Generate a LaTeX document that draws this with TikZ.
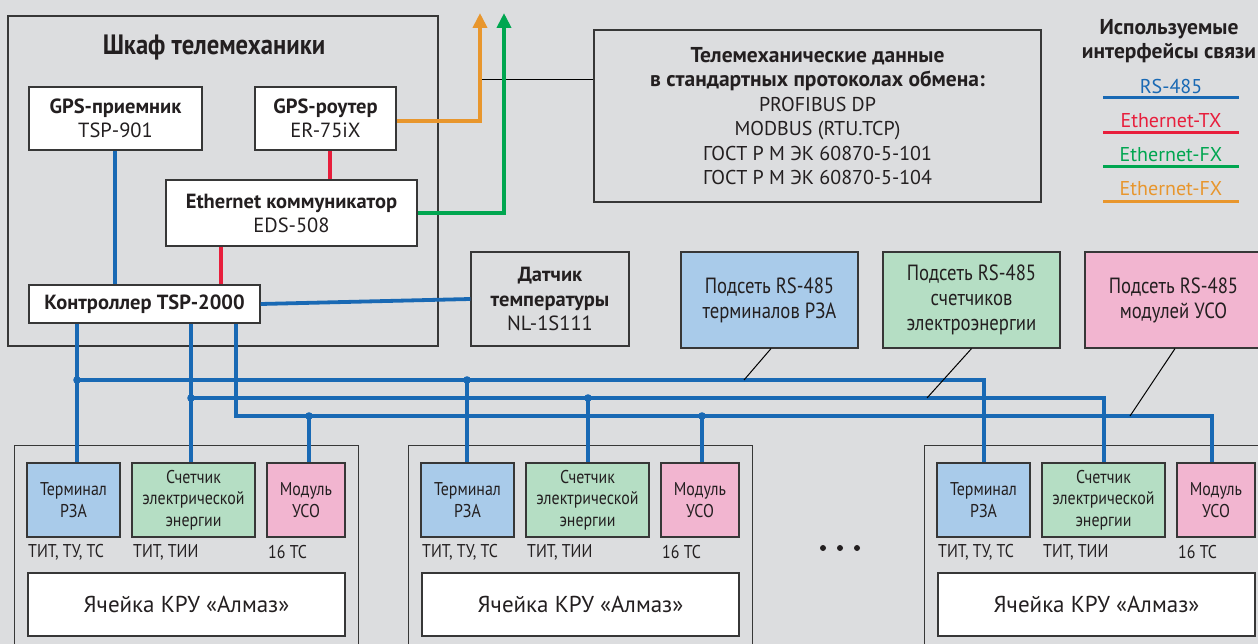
\documentclass[tikz,border=0pt]{standalone}
\usepackage{fontspec}
\setmainfont{PT Sans}
\newfontfamily\cond[FakeStretch=0.86]{PT Sans}
\newfontfamily\condsub[FakeStretch=0.85]{PT Sans}
\newfontfamily\condtitle[FakeStretch=0.88]{PT Sans}
\usetikzlibrary{arrows.meta,calc}
\definecolor{bg}{RGB}{220,221,223}
\definecolor{rsblue}{RGB}{25,105,180}
\definecolor{etred}{RGB}{232,30,60}
\definecolor{fxgreen}{RGB}{0,166,80}
\definecolor{fxorange}{RGB}{232,150,45}
\definecolor{fblue}{RGB}{169,203,234}
\definecolor{fgreen}{RGB}{181,222,196}
\definecolor{fpink}{RGB}{242,181,208}
\definecolor{edge}{RGB}{55,55,55}
\definecolor{ink}{RGB}{35,31,32}
\begin{document}
\begin{tikzpicture}[x=1pt,y=-1pt,
  frame/.style={draw=edge, line width=1.2pt, inner sep=0pt},
  box/.style={frame, fill=white, align=center, text=ink, font=\fontsize{20.5}{24}\selectfont},
  cbox/.style={frame, align=center, text=ink, font=\condsub\fontsize{22}{25}\selectfont},
  cellitem/.style={frame, align=center, text=ink, font=\cond\fontsize{18.5}{21.5}\selectfont},
  lbl/.style={anchor=west, text=ink, inner sep=0pt, font=\cond\fontsize{18.5}{20}\selectfont},
  lgd/.style={font=\fontsize{20}{22}\selectfont},
  rs/.style={draw=rsblue, line width=3.8pt},
  bus/.style={draw=rsblue, line width=3.2pt},
  tx/.style={draw=etred, line width=3.8pt},
  fx/.style={draw=fxgreen, line width=4.2pt, -{Triangle[length=15pt,width=14pt]}},
  fxo/.style={draw=fxorange, line width=4.2pt, -{Triangle[length=15pt,width=14pt]}},
  leader/.style={draw=black, line width=1pt},
  dot/.style={fill=rsblue}
]
\fill[bg] (0,0) rectangle (1258,644);
\useasboundingbox (0,0) rectangle (1258,644);

% cabinet
\node[frame, minimum width=430pt, minimum height=330pt] (cab) at (223,181) {};
\node[text=ink, font=\condtitle\bfseries\fontsize{28}{30}\selectfont] (title) at (214,48) {Шкаф телемеханики};
\node[box, minimum width=173pt, minimum height=63pt] (gpsp) at (115.5,118.5) {\bfseries GPS-приемник\\TSP-901};
\node[box, minimum width=141pt, minimum height=63pt] (gpsr) at (325.5,118.5) {\bfseries GPS-роутер\\ER-75iX};
\node[box, minimum width=251pt, minimum height=66pt] (eth) at (291.5,213) {\bfseries Ethernet коммуникатор\\EDS-508};
\node[box, minimum width=231pt, minimum height=38pt] (ctrl) at (144.5,304) {\bfseries Контроллер TSP-2000};

% data box
\node[frame, align=center, text=ink, font=\fontsize{20}{24.5}\selectfont, minimum width=447pt, minimum height=172pt] (data) at (817.5,116)
 {{\fontsize{21.5}{24.5}\selectfont\bfseries Телемеханические данные}\\{\fontsize{21.5}{24.5}\selectfont\bfseries в стандартных протоколах обмена:}\\PROFIBUS DP\\MODBUS (RTU.TCP)\\ГОСТ Р М ЭК 60870-5-101\\ГОСТ Р М ЭК 60870-5-104};

% sensor and subnets
\node[frame, align=center, text=ink, font=\fontsize{20.5}{24.5}\selectfont, minimum width=158pt, minimum height=94pt] (sens) at (550,299) {\bfseries Датчик\\\bfseries температуры\\NL-1S111};
\node[cbox, fill=fblue, minimum width=177pt, minimum height=96pt] (sub1) at (769.5,300) {Подсеть RS-485\\терминалов РЗА};
\node[cbox, fill=fgreen, minimum width=177pt, minimum height=96pt] (sub2) at (971.5,300) {Подсеть RS-485\\счетчиков\\электроэнергии};
\node[cbox, fill=fpink, minimum width=177pt, minimum height=96pt] (sub3) at (1173.5,300) {Подсеть RS-485\\модулей УСО};

% legend
\node[text=ink, align=center, font=\bfseries\fontsize{21.5}{24}\selectfont] (legt) at (1169,41) {Используемые\\интерфейсы связи};
\node[text=rsblue, lgd] (lg1) at (1171,87) {RS-485};
\node[text=etred, lgd] (lg2) at (1171,121) {Ethernet-TX};
\node[text=fxgreen, lgd] (lg3) at (1171,155) {Ethernet-FX};
\node[text=fxorange, lgd] (lg4) at (1171,189) {Ethernet-FX};
\draw[draw=rsblue, line width=3pt] (1103,98) -- (1239,98);
\draw[draw=etred, line width=3pt] (1103,133) -- (1239,133);
\draw[draw=fxgreen, line width=3pt] (1103,167) -- (1239,167);
\draw[draw=fxorange, line width=3pt] (1103,202) -- (1239,202);

% cells
\foreach \o/\i in {0/1,394/2,910/3} {
  \node[frame, minimum width=344pt, minimum height=215pt, anchor=north west] (cell\i) at ({14+\o},445) {};
  \node[cellitem, fill=fblue, minimum width=93pt, minimum height=74pt] (term\i) at ({73.5+\o},500) {Терминал\\РЗА};
  \node[cellitem, fill=fgreen, minimum width=123pt, minimum height=74pt] (cnt\i) at ({193.5+\o},500) {Счетчик\\электрической\\энергии};
  \node[cellitem, fill=fpink, minimum width=78pt, minimum height=74pt] (mod\i) at ({306+\o},500) {Модуль\\УСО};
  \node[lbl] (lt\i) at ({28+\o},552) {ТИТ, ТУ, ТС};
  \node[lbl] (lc\i) at ({133+\o},552) {ТИТ, ТИИ};
  \node[lbl] (lm\i) at ({268+\o},552) {16 ТС};
  \node[box, font=\fontsize{23}{24}\selectfont, minimum width=317pt, minimum height=63pt] (kru\i) at ({186.5+\o},604.5) {Ячейка КРУ «Алмаз»};
}
\fill[ink] (823,548) circle (3pt) (840,548) circle (3pt) (857,548) circle (3pt);

% cabinet connections
\coordinate (gx) at (115,0);
\coordinate (rx) at (330,0);
\coordinate (ex) at (221,0);
\draw[rs] (gpsp.south -| gx) -- (ctrl.north -| gx);
\draw[tx] (gpsr.south -| rx) -- (eth.north -| rx);
\draw[tx] (eth.south -| ex) -- (ctrl.north -| ex);
\draw[rs] (ctrl.east) -- (sens.west);

\coordinate (oc) at (480,121);
\coordinate (gc) at (504,213);
\coordinate (tl) at (480,80);
\draw[leader] (tl) -- (tl -| data.west);
\draw[fxo] (gpsr.east |- oc) -- (oc) -- (480,13);
\draw[fx] (eth.east |- gc) -- (gc) -- (504,13);

% buses
\coordinate (j1) at (77,380);
\coordinate (j2) at (191,398);
\coordinate (k3) at (236,416);
\coordinate (e1) at (984,380);
\coordinate (e2) at (1104,398);
\coordinate (e3) at (1212,416);
\coordinate (d1) at (467,380);
\coordinate (d2) at (588,398);
\coordinate (d3) at (309,416);
\coordinate (d4) at (702,416);
\draw[bus] (ctrl.south -| j1) -- (j1 |- term1.north);
\draw[bus] (ctrl.south -| j2) -- (j2 |- cnt1.north);
\draw[bus] (ctrl.south -| k3) -- (k3) -- (e3) -- (e3 |- mod3.north);
\draw[bus] (j1) -- (e1) -- (e1 |- term3.north);
\draw[bus] (j2) -- (e2) -- (e2 |- cnt3.north);
\draw[bus] (d1) -- (d1 |- term2.north);
\draw[bus] (d2) -- (d2 |- cnt2.north);
\draw[bus] (d3) -- (d3 |- mod1.north);
\draw[bus] (d4) -- (d4 |- mod2.north);
\foreach \p in {j1,j2,d1,d2,d3,d4} \fill[dot] (\p) circle (3.8pt);

% subnet leaders
\coordinate (l1) at (744,380);
\coordinate (l2) at (927,398);
\coordinate (l3) at (1130,416);
\draw[leader] ([xshift=1.5pt]sub1.south) -- (l1);
\draw[leader] (sub2.south) -- (l2);
\draw[leader] ([xshift=1.5pt]sub3.south) -- (l3);
\end{tikzpicture}
\end{document}
